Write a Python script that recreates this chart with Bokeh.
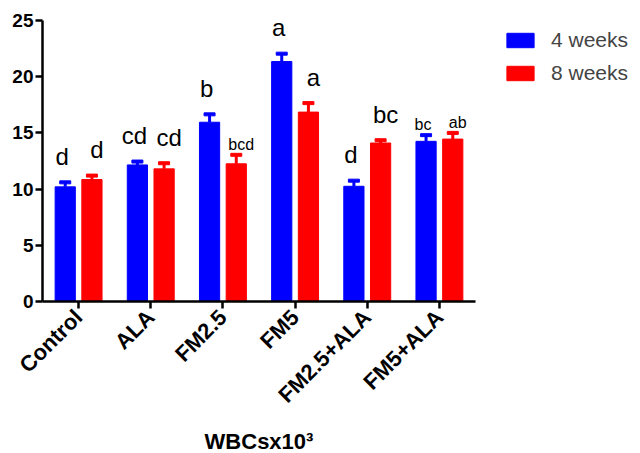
from math import pi
from bokeh.plotting import figure
from bokeh.models import ColumnDataSource, FactorRange, Range1d, Legend, LegendItem
from bokeh.transform import dodge
from bokeh.core.properties import value
from bokeh.embed import file_html
from bokeh.resources import INLINE

groups = ["Control", "ALA", "FM2.5", "FM5", "FM2.5+ALA", "FM5+ALA"]
wk4 = [10.2, 12.15, 15.95, 21.35, 10.25, 14.25]
wk4_err = [0.4, 0.3, 0.7, 0.7, 0.5, 0.55]
wk8 = [10.85, 11.8, 12.25, 16.85, 14.1, 14.45]
wk8_err = [0.35, 0.5, 0.8, 0.8, 0.25, 0.55]
wk4_letters = ["d", "cd", "b", "a", "d", "bc"]
wk8_letters = ["d", "cd", "bcd", "a", "bc", "ab"]
wk4_small = [False, False, False, False, False, True]
wk8_small = [False, False, True, False, False, True]
series_names = ["4 weeks", "8 weeks"]
y_ticks = [0, 5, 10, 15, 20, 25]

BLUE = "#0000ff"
RED = "#ff0000"
FONT = "Liberation Sans"

p = figure(x_range=FactorRange(*groups, range_padding=0), y_range=Range1d(0, 25),
           frame_width=433, frame_height=281,
           output_backend="svg", toolbar_location=None,
           min_border_left=42, min_border_top=20, min_border_right=149, min_border_bottom=150)
p.outline_line_color = None
p.xgrid.visible = False
p.ygrid.visible = False
p.background_fill_color = "white"


def build(vals, errs, letters, small, off, color, lab_dx):
    top = [v + e for v, e in zip(vals, errs)]
    lab_y = [t + (0.95 if s else 2.3) for t, s in zip(top, small)]
    sizes = ["16px" if s else "24px" for s in small]
    src = ColumnDataSource(dict(g=groups, v=vals, top=top, lab=letters, laby=lab_y, fs=sizes))
    x = dodge("g", off, range=p.x_range)
    r = p.vbar(x=x, top="v", bottom=0, width=0.28, source=src, fill_color=color, line_color=color)
    p.segment(x0=x, y0="v", x1=x, y1="top", source=src, line_color=color, line_width=3)
    p.rect(x=x, y="top", width=11, height=3, width_units="screen", height_units="screen",
           source=src, fill_color=color, line_color=color)
    p.text(x=x, y="laby", text="lab", source=src, text_align="center", text_baseline="alphabetic",
           x_offset=lab_dx, text_font=value(FONT), text_font_size="fs", text_color="black")
    return r


r4 = build(wk4, wk4_err, wk4_letters, wk4_small, -0.185, BLUE, -3)
r8 = build(wk8, wk8_err, wk8_letters, wk8_small, 0.185, RED, 5)

for ax in (p.xaxis[0], p.yaxis[0]):
    ax.axis_line_width = 2.5
    ax.major_tick_line_width = 2.5
    ax.major_tick_out = 7
    ax.major_tick_in = 0
    ax.minor_tick_line_color = None
    ax.major_label_text_font = FONT
    ax.major_label_text_font_style = "bold"
    ax.major_label_text_color = "black"
    ax.axis_line_color = "black"
    ax.major_tick_line_color = "black"

p.yaxis.ticker = y_ticks
p.yaxis.major_label_text_font_size = "19px"
p.yaxis.major_label_standoff = 2
p.xaxis.major_label_text_font_size = "22px"
p.xaxis.major_label_orientation = pi / 4
p.xaxis.major_label_standoff = 5
p.xaxis.axis_label = "WBCsx10³"
p.xaxis.axis_label_text_font = FONT
p.xaxis.axis_label_text_font_style = "bold"
p.xaxis.axis_label_text_font_size = "22px"
p.xaxis.axis_label_text_color = "black"
p.xaxis.axis_label_standoff = 10

legend = Legend(items=[LegendItem(label=series_names[0], renderers=[r4]),
                       LegendItem(label=series_names[1], renderers=[r8])],
                location=(28, 216), glyph_width=34, glyph_height=18, spacing=9,
                label_text_font=FONT, label_text_font_size="21px", label_standoff=14,
                border_line_color=None, background_fill_alpha=0, margin=0, padding=0)
p.add_layout(legend, "right")

open("out.html", "w").write(file_html(p, INLINE))
